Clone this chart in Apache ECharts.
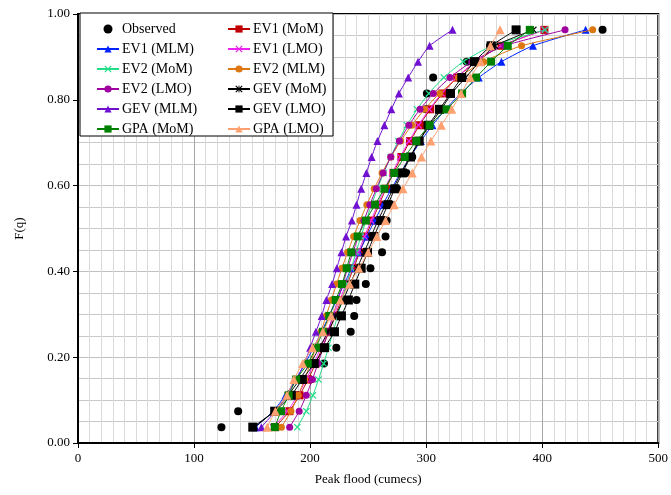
<!DOCTYPE html>
<html><head><meta charset="utf-8">
<script src="https://cdn.jsdelivr.net/npm/echarts@6/dist/echarts.min.js"></script>
<style>html,body{margin:0;padding:0;background:#fff}#c{width:671px;height:495px}</style>
</head><body><div id="c"></div>
<script>
// Plotting positions F = i/27, i = 1..26
const fValues = [0.0370,0.0741,0.1111,0.1481,0.1852,0.2222,0.2593,0.2963,0.3333,0.3704,0.4074,0.4444,0.4815,0.5185,0.5556,0.5926,0.6296,0.6667,0.7037,0.7407,0.7778,0.8148,0.8519,0.8889,0.9259,0.9630];
const xTicks = [0,100,200,300,400,500];
const yTicks = [0.00,0.20,0.40,0.60,0.80,1.00];

const observed = [123.6,138,190,200,212,222.6,235,238,240,248,252,262,265,266,270,275,283,288,292,297,300,300.6,306,335,355,452];
const ev1MoM = [169.9,182.2,190.9,198.2,204.7,210.6,216.2,221.6,226.9,232.1,237.4,242.7,248.1,253.6,259.4,265.4,271.8,278.7,286.1,294.3,303.5,314.1,326.8,342.8,364.9,401.9];
const ev1MLM = [153.0,168.1,178.8,187.8,195.7,202.9,209.8,216.4,222.9,229.3,235.7,242.2,248.8,255.6,262.7,270.1,277.9,286.3,295.4,305.4,316.7,329.8,345.3,364.9,392.0,437.4];
const ev1LMO = [168.1,180.5,189.3,196.7,203.2,209.2,214.8,220.3,225.6,230.9,236.1,241.5,246.9,252.5,258.3,264.4,270.8,277.7,285.2,293.4,302.7,313.4,326.2,342.4,364.6,401.9];
const ev2MoM = [189.0,196.7,202.4,207.3,211.7,215.8,219.8,223.7,227.6,231.5,235.5,239.6,243.8,248.3,253.0,258.0,263.4,269.4,276.0,283.4,292.1,302.3,315.2,332.0,356.8,402.5];
const ev2MLM = [175.3,183.5,189.8,195.2,200.2,204.8,209.3,213.8,218.3,222.8,227.4,232.3,237.5,243.0,248.9,255.2,262.0,269.6,278.0,287.6,298.6,311.6,327.9,349.6,382.2,443.5];
const ev2LMO = [182.4,190.6,196.7,202.0,206.7,211.1,215.4,219.6,223.9,228.1,232.4,236.9,241.5,246.4,251.5,257.1,263.0,269.5,276.9,285.1,294.7,306.2,320.5,339.4,367.4,419.7];
const gevMoM = [152,169,181,191,200,208,215.5,222,228.5,234.5,240.5,246.5,252.5,258.5,265,271.5,278.5,286,294,303,313,322,334,346,359.4,392.4];
const gevMLM = [158,170,180,188,195,200,205,210,214,219,223,227,231,236,240,244,248.5,253,258,264,270,276.5,284.5,293,303,322.7];
const gevLMO = [150.6,169.5,183.8,193.3,203.6,212.5,221,227,233,238.5,244,249.5,255,261,267,273,279.5,286.5,294,302,311.5,321,330.7,341.6,356,377.5];
const gpaMoM = [169.5,175,181.5,188,198,205,211,216.5,222,227.5,231.5,235.5,241,248,256,264,272.5,281.5,291.5,303,317.6,331,343,356,370.3,389.3];
const gpaLMO = [163,170,180,186,193.6,202,211,218,226,234,242,250,257.5,265,272.5,280,288,296,304,313,322,330,338,347,355.4,363.7];

const names = ['Observed','EV1 (MoM)','EV1 (MLM)','EV1 (LMO)','EV2 (MoM)','EV2 (MLM)','EV2 (LMO)','GEV (MoM)','GEV (MLM)','GEV (LMO)','GPA (MoM)','GPA (LMO)'];
const dataSets = [observed,ev1MoM,ev1MLM,ev1LMO,ev2MoM,ev2MLM,ev2LMO,gevMoM,gevMLM,gevLMO,gpaMoM,gpaLMO];
const colors = ['#000000','#C00000','#0022FF','#EE22EE','#22DD88','#DD7711','#A000A0','#000000','#7010D0','#000000','#008000','#FFA070'];
const xMark = 'path://M0,1.2L1.2,0L5,3.8L8.8,0L10,1.2L6.2,5L10,8.8L8.8,10L5,6.2L1.2,10L0,8.8L3.8,5Z';
const star = 'path://M0,1.2L1.2,0L5,3.8L8.8,0L10,1.2L6.2,5L10,8.8L8.8,10L5,6.2L1.2,10L0,8.8L3.8,5ZM4.4,0L5.6,0L5.6,10L4.4,10Z';
const symbols = ['circle','rect','triangle',xMark,xMark,'circle','circle',star,'triangle','rect','rect','triangle'];
const sizes = [8,8,8,7,7,7,7,7,8,9,8,9];

const serif = 'Liberation Serif, Times New Roman, serif';
const series = dataSets.map((arr, k) => ({
  name: names[k],
  type: k === 0 ? 'scatter' : 'line',
  data: arr.map((v, i) => [v, fValues[i]]),
  symbol: symbols[k],
  symbolSize: sizes[k],
  showSymbol: true,
  smooth: 0.2,
  itemStyle: {color: colors[k], opacity: 1},
  lineStyle: {color: colors[k], width: 1},
  z: 2 + k * 0.01,
  animation: false
}));

const legendBase = {orient: 'vertical', top: 17, itemWidth: 22, itemHeight: 9, itemGap: 6,
  textStyle: {fontFamily: serif, fontSize: 14, color: '#000', padding: [0,0,0,-2]}, z: 5};

const chart = echarts.init(document.getElementById('c'), null, {renderer: 'canvas'});
chart.setOption({
  animation: false,
  backgroundColor: '#fff',
  grid: {left: 78, right: 12, top: 14, bottom: 52, show: true, borderColor: '#000', borderWidth: 2, containLabel: false},
  xAxis: {
    type: 'value', min: xTicks[0], max: xTicks[xTicks.length-1], interval: 100,
    name: 'Peak flood (cumecs)', nameLocation: 'middle', nameGap: 30,
    nameTextStyle: {fontFamily: serif, fontSize: 13, color: '#000'},
    axisLine: {lineStyle: {color: '#000', width: 2}},
    axisTick: {show: true, length: 5, lineStyle: {color: '#000'}},
    axisLabel: {fontFamily: serif, fontSize: 13, color: '#000', margin: 9},
    splitLine: {show: true, lineStyle: {color: '#a6a6a6', width: 1}},
    minorTick: {show: false, splitNumber: 10},
    minorSplitLine: {show: true, lineStyle: {color: '#d9d9d9', width: 1}}
  },
  yAxis: {
    type: 'value', min: yTicks[0], max: yTicks[yTicks.length-1], interval: 0.2,
    name: 'F(q)', nameLocation: 'middle', nameGap: 52,
    nameTextStyle: {fontFamily: serif, fontSize: 13, color: '#000'},
    axisLine: {lineStyle: {color: '#000', width: 2}},
    axisTick: {show: true, length: 5, lineStyle: {color: '#000'}},
    axisLabel: {fontFamily: serif, fontSize: 13, color: '#000', margin: 8, formatter: v => v.toFixed(2)},
    splitLine: {show: true, lineStyle: {color: '#c0c0c0', width: 1}},
    minorTick: {show: false, splitNumber: 4},
    minorSplitLine: {show: true, lineStyle: {color: '#c8c8c8', width: 1}}
  },
  graphic: [{type: 'rect', shape: {x: 80, y: 13, width: 253, height: 123}, style: {fill: '#fff', stroke: '#000', lineWidth: 1}, z: 3}],
  legend: [
    Object.assign({data: [names[0],names[2],names[4],names[6],names[8],names[10]], left: 91}, legendBase),
    Object.assign({data: [names[1],names[3],names[5],names[7],names[9],names[11]], left: 222}, legendBase)
  ],
  series: series
});
</script></body></html>
